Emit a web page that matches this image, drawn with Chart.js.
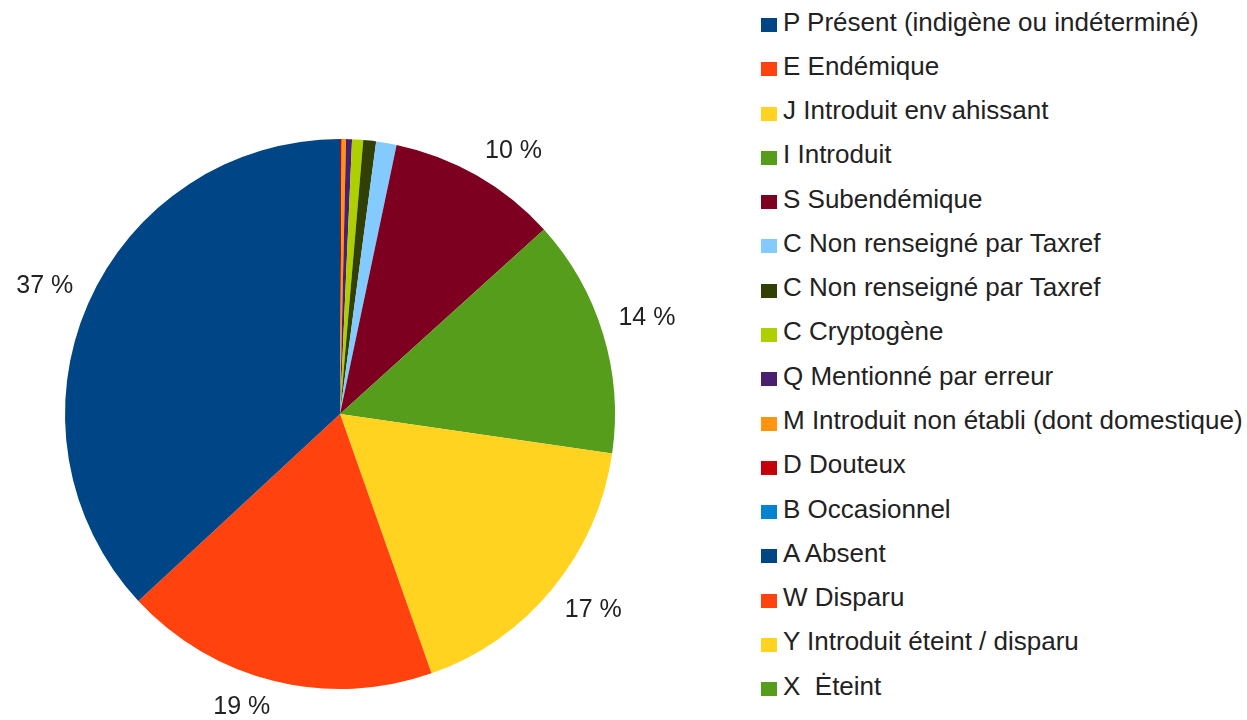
<!DOCTYPE html>
<html lang="fr">
<head>
<meta charset="utf-8">
<title>Répartition des statuts</title>
<script src="https://cdn.jsdelivr.net/npm/chart.js@4.4.1/dist/chart.umd.min.js"></script>
<style>
    html, body { margin: 0; padding: 0; background: #fff; }
    body {
        width: 1247px; height: 720px; position: relative; overflow: hidden;
        font-family: "Liberation Sans", Arial, sans-serif;
    }
    #pie-wrap { position: absolute; left: 0; top: 0; width: 680px; height: 720px; }
    #legend { position: absolute; left: 761px; top: 0; margin: 0; padding: 0; list-style: none; }
    #legend li {
        height: 44.27px; display: flex; align-items: center;
        font-size: 26px; color: #222; white-space: pre;
    }
    #legend .sw { width: 16px; height: 14px; margin-right: 6px; flex: none; position: relative; top: 3px; }
</style>
</head>
<body>
<div id="pie-wrap"><canvas id="statusChart"></canvas></div>
<ul id="legend"></ul>

<script>
// Statuts (ordre de la légende), parts en %
const labels = [
    'P Présent (indigène ou indéterminé)',
    'E Endémique',
    'J Introduit env\u2009ahissant',
    'I Introduit',
    'S Subendémique',
    'C Non renseigné par Taxref',
    'C Non renseigné par Taxref',
    'C Cryptogène',
    'Q Mentionné par erreur',
    'M Introduit non établi (dont domestique)',
    'D Douteux',
    'B Occasionnel',
    'A Absent',
    'W Disparu',
    'Y Introduit éteint / disparu',
    'X  Ėteint'
];
const values = [36.9, 18.5, 17.3, 14.0, 10.0, 1.2, 0.75, 0.65, 0.35, 0.25, 0.1, 0, 0, 0, 0, 0];
const colors = [
    '#004586', '#ff420e', '#ffd320', '#579d1c', '#7e0021', '#83caff', '#314004', '#aecf00',
    '#4b1f6f', '#ff950e', '#c5000b', '#0084d1', '#004586', '#ff420e', '#ffd320', '#579d1c'
];
const MIN_LABEL_PCT = 5;

/**
 * Percent labels placed just outside each large slice
 */
const outsideLabels = {
    id: 'outsideLabels',
    afterDatasetsDraw(chart) {
        const ctx = chart.ctx;
        const meta = chart.getDatasetMeta(0);
        const data = chart.data.datasets[0].data;
        const total = data.reduce((a, b) => a + b, 0);
        ctx.save();
        ctx.font = '25px "Liberation Sans", Arial, sans-serif';
        ctx.fillStyle = '#222';
        ctx.textBaseline = 'middle';
        meta.data.forEach((arc, i) => {
            const pct = data[i] / total * 100;
            if (pct < MIN_LABEL_PCT) return;
            const mid = (arc.startAngle + arc.endAngle) / 2;
            const r = arc.outerRadius + 16;
            const cx = Math.cos(mid), sy = Math.sin(mid);
            const ax = arc.x + cx * r, ay = arc.y + sy * r;
            ctx.textAlign = cx >= 0 ? 'left' : 'right';
            ctx.fillText(Math.round(pct) + ' %', ax, ay + (sy >= 0 ? 11 : -11));
        });
        ctx.restore();
    }
};

// LibreOffice draws slices counter-clockwise from the top: reverse for Chart.js
const pieLabels = labels.slice().reverse();
const pieValues = values.slice().reverse();
const pieColors = colors.slice().reverse();

new Chart(document.getElementById('statusChart'), {
    type: 'pie',
    data: {
        labels: pieLabels,
        datasets: [{
            data: pieValues,
            backgroundColor: pieColors,
            borderWidth: 0,
            hoverOffset: 0
        }]
    },
    options: {
        responsive: true,
        maintainAspectRatio: false,
        animation: false,
        layout: { padding: { left: 65, right: 65, top: 139, bottom: 31 } },
        plugins: {
            legend: { display: false },
            tooltip: { enabled: false }
        }
    },
    plugins: [outsideLabels]
});

// Legend
const legendEl = document.getElementById('legend');
labels.forEach((text, i) => {
    const li = document.createElement('li');
    const sw = document.createElement('span');
    sw.className = 'sw';
    sw.style.background = colors[i];
    li.appendChild(sw);
    li.appendChild(document.createTextNode(text));
    legendEl.appendChild(li);
});
</script>
</body>
</html>
